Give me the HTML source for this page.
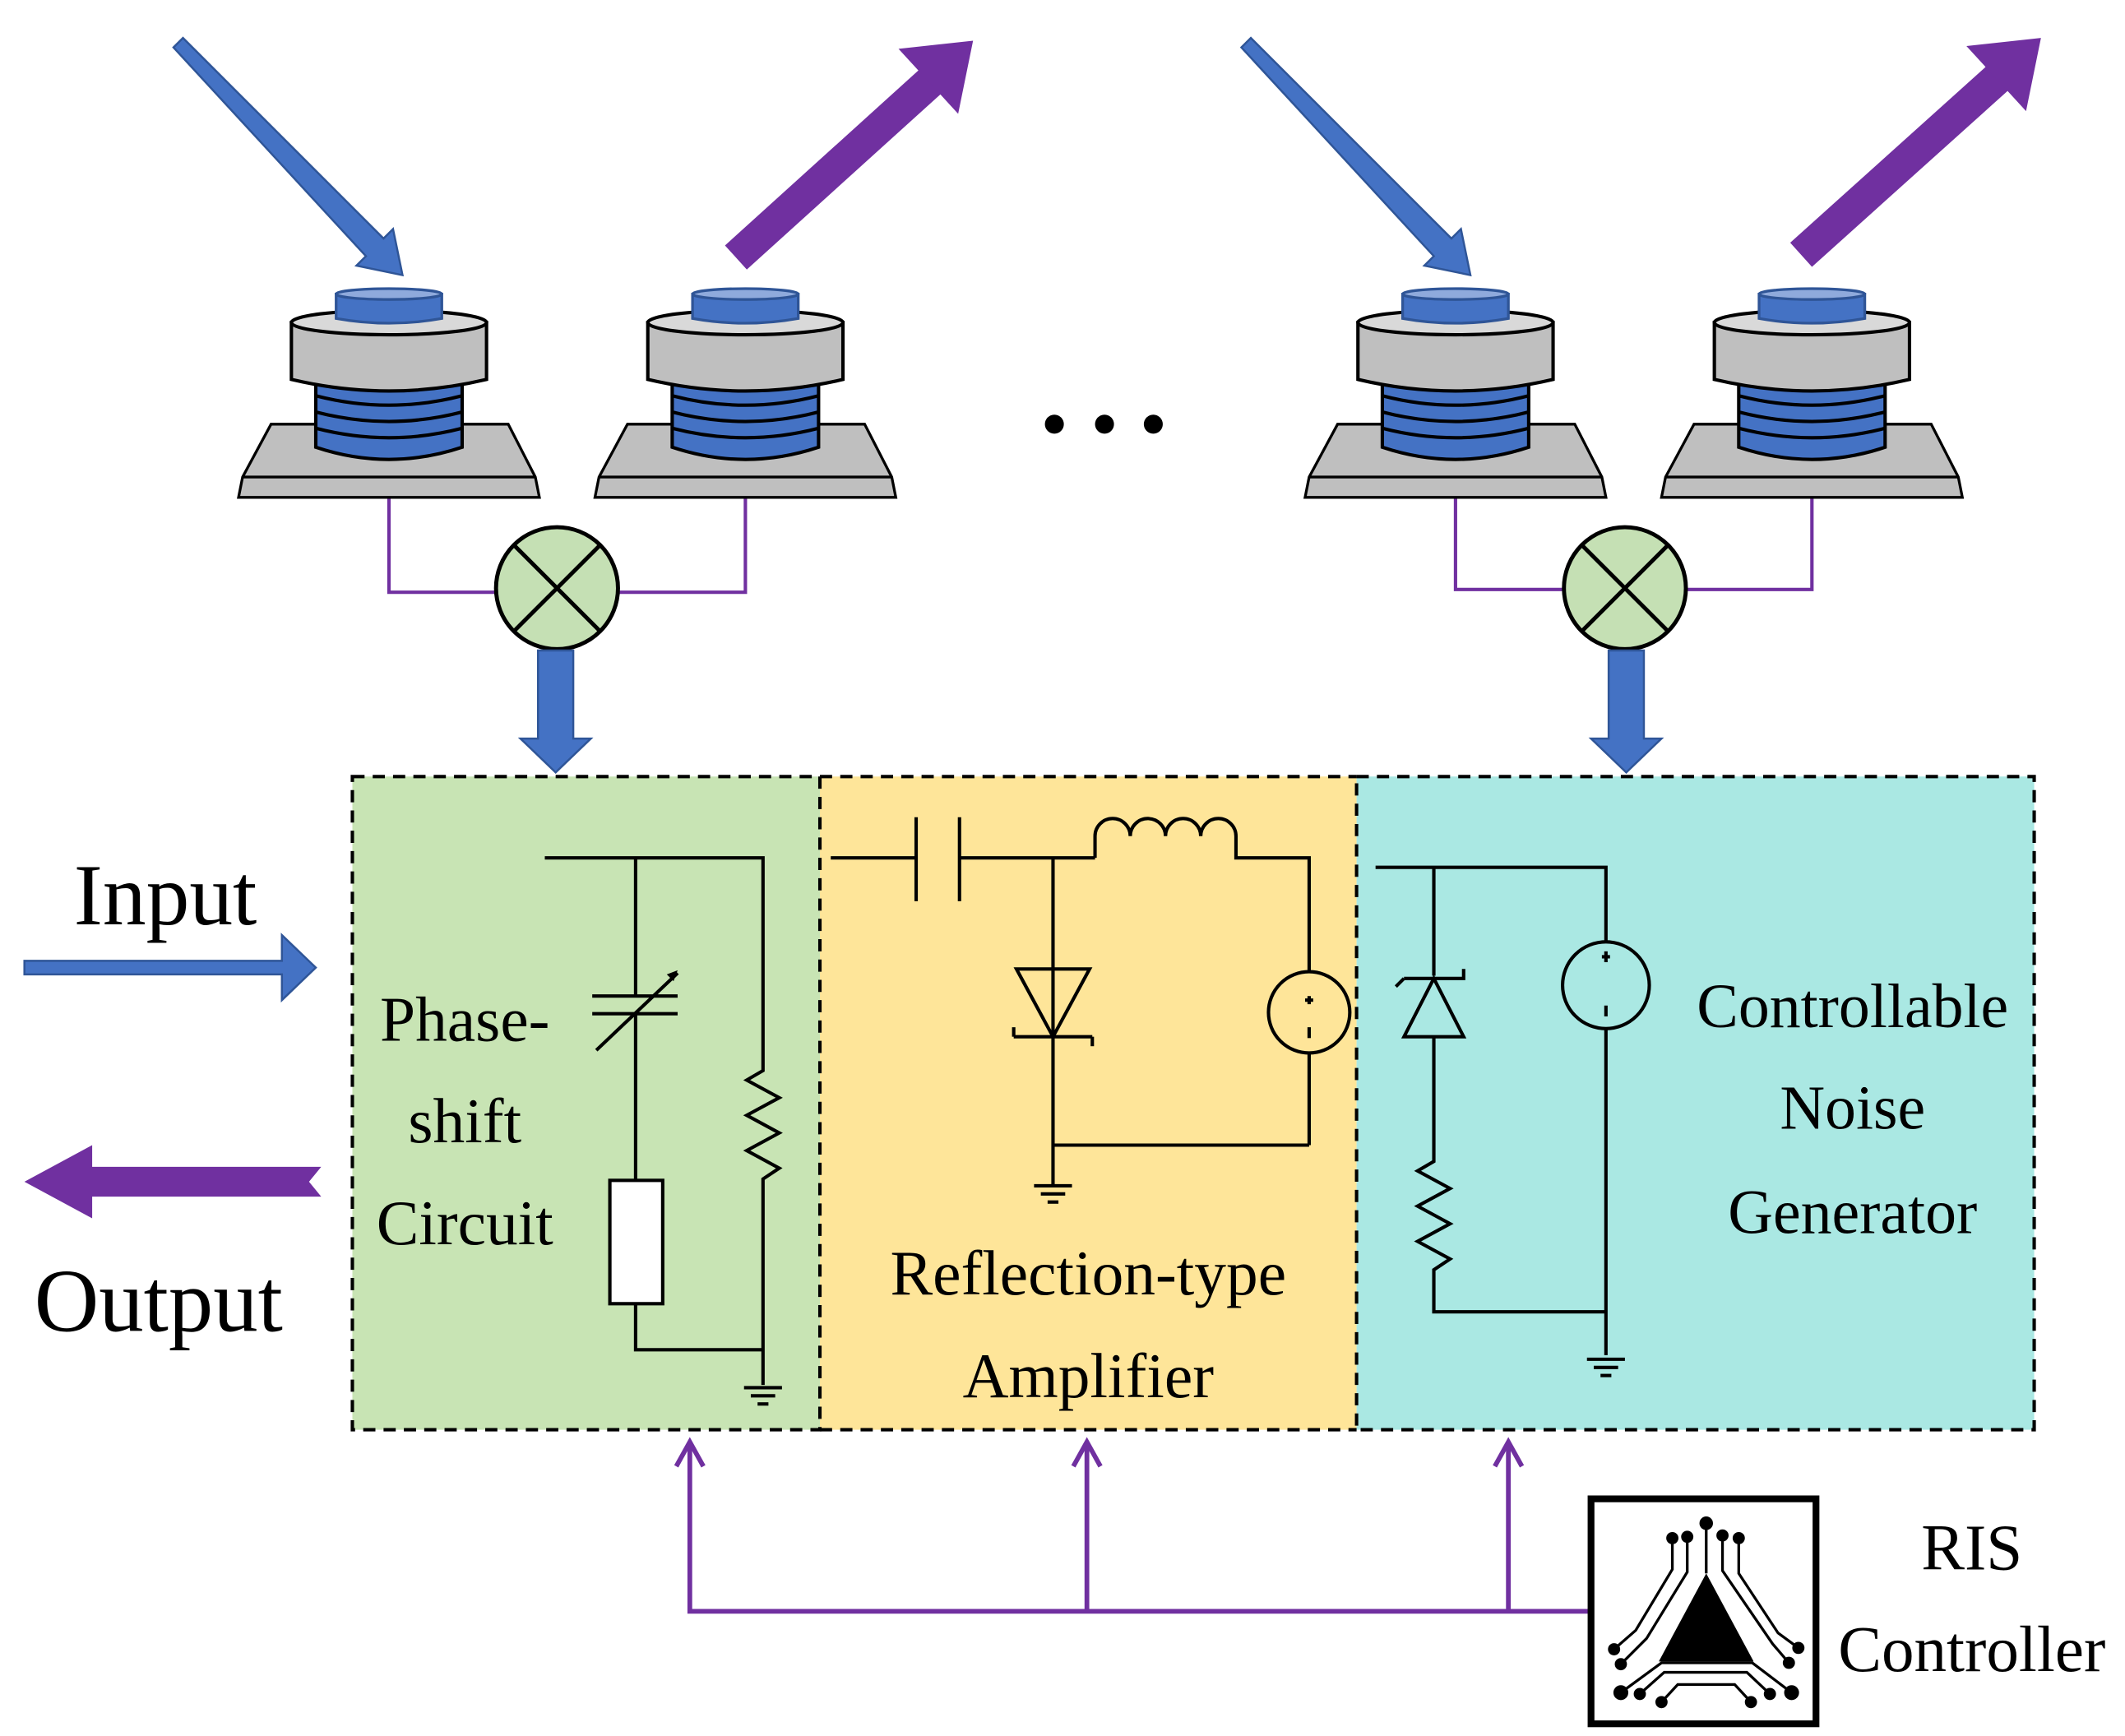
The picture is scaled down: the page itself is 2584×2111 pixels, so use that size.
<!DOCTYPE html>
<html><head><style>html,body{margin:0;padding:0;background:#fff;}svg{display:block}</style></head>
<body>
<svg width="2584" height="2111" viewBox="0 0 1568 1281" xmlns="http://www.w3.org/2000/svg" font-family="Liberation Serif, serif">
<defs>
<g id="ant">
 <polygon points="-99,367 -111,367 -108,352 -87,313 88,313 108,352 111,367" fill="#bfbfbf" stroke="#000" stroke-width="2"/>
 <line x1="-108" y1="352" x2="108" y2="352" stroke="#000" stroke-width="2"/>
 <path d="M-54,280 L-54,330 Q0,348 54,330 L54,280 Z" fill="#4472c4" stroke="#000" stroke-width="2.5"/>
 <path d="M-54,292 Q0,306 54,292 M-54,304 Q0,318 54,304 M-54,316 Q0,330 54,316" fill="none" stroke="#000" stroke-width="2.5"/>
 <path d="M-72,238 L-72,280 Q0,297 72,280 L72,238 Z" fill="#bfbfbf" stroke="#000" stroke-width="2.5"/>
 <ellipse cx="0" cy="238" rx="72" ry="9" fill="#d9d9d9" stroke="#000" stroke-width="2.5"/>
 <path d="M-39,217 L-39,235 Q0,242 39,235 L39,217 Z" fill="#4472c4" stroke="#2f5597" stroke-width="2"/>
 <ellipse cx="0" cy="217" rx="39" ry="4" fill="#8faadc" stroke="#2f5597" stroke-width="2"/>
</g>
<g id="mix">
 <circle r="45" fill="#c5e0b4" stroke="#000" stroke-width="3"/>
 <line x1="-32" y1="-32" x2="32" y2="32" stroke="#000" stroke-width="3"/>
 <line x1="-32" y1="32" x2="32" y2="-32" stroke="#000" stroke-width="3"/>
</g>
<g id="down">
 <polygon points="-13,0 13,0 13,65 26,65 0,90 -26,65 -13,65" fill="#4472c4" stroke="#2f5597" stroke-width="1.5"/>
</g>
<g id="gnd" stroke="#000" stroke-width="2.5">
 <line x1="-14" y1="0" x2="14" y2="0"/><line x1="-9" y1="6" x2="9" y2="6"/><line x1="-4" y1="12" x2="4" y2="12"/>
</g>
</defs>

<g fill="#4472c4" stroke="#2f5597" stroke-width="1.5">
 <polygon points="128,35 135,28 283,176 290,169 297,203 263,196 270,189"/>
 <polygon points="916,35 923,28 1071,176 1078,169 1085,203 1051,196 1058,189"/>
</g>
<g stroke="#7030a0" stroke-width="24">
 <line x1="543" y1="190" x2="690" y2="57"/>
 <line x1="1329" y1="188" x2="1478" y2="54"/>
</g>
<g fill="#7030a0">
 <polygon points="718,30 707,84 663,36"/>
 <polygon points="1506,28 1495,82 1451,34"/>
</g>

<use href="#ant" x="287"/>
<use href="#ant" x="550"/>
<use href="#ant" x="1074"/>
<use href="#ant" x="1337"/>

<circle cx="778" cy="313" r="7"/><circle cx="815" cy="313" r="7"/><circle cx="851" cy="313" r="7"/>

<g fill="none" stroke="#7030a0" stroke-width="2.5">
 <polyline points="287,368 287,437 366,437"/>
 <polyline points="550,368 550,437 456,437"/>
 <polyline points="1074,368 1074,435 1154,435"/>
 <polyline points="1337,368 1337,435 1244,435"/>
</g>
<use href="#mix" x="411" y="434"/>
<use href="#mix" x="1199" y="434"/>
<use href="#down" x="410" y="480"/>
<use href="#down" x="1200" y="480"/>

<rect x="260" y="573" width="345" height="482" fill="#c8e4b4"/>
<rect x="605" y="573" width="396" height="482" fill="#fee599"/>
<rect x="1001" y="573" width="500" height="482" fill="#aae8e3"/>
<g fill="none" stroke="#000" stroke-width="2.5" stroke-dasharray="9,6">
 <rect x="260" y="573" width="345" height="482"/>
 <rect x="1001" y="573" width="500" height="482"/>
 <line x1="605" y1="573" x2="1001" y2="573"/>
 <line x1="605" y1="1055" x2="1001" y2="1055"/>
</g>

<text x="122" y="682" font-size="64" text-anchor="middle">Input</text>
<polygon points="18,709 208,709 208,690 233,714 208,738 208,719 18,719" fill="#4472c4" stroke="#2f5597" stroke-width="1.5"/>
<polygon points="237,861 68,861 68,845 18,872 68,899 68,883 237,883 228,872" fill="#7030a0"/>
<text x="117" y="982" font-size="66" text-anchor="middle">Output</text>

<g fill="none" stroke="#000" stroke-width="2.5">
 <polyline points="402,633 563,633 563,790 551,797 575,810 551,823 575,836 551,849 575,862 563,870 563,1022"/>
 <line x1="469" y1="633" x2="469" y2="735"/>
 <line x1="437" y1="735" x2="500" y2="735"/>
 <line x1="437" y1="748" x2="500" y2="748"/>
 <line x1="440" y1="775" x2="500" y2="718"/>
 <polyline points="469,748 469,871"/>
 <rect x="450" y="871" width="39" height="91" fill="#fff"/>
 <polyline points="469,962 469,996 563,996"/>
</g>
<polygon points="500,716 492,719 497,724" fill="#000"/>
<use href="#gnd" x="563" y="1024"/>
<g font-size="47" text-anchor="middle">
<text x="343" y="768">Phase-</text><text x="343" y="843">shift</text><text x="343" y="918">Circuit</text>
</g>

<g fill="none" stroke="#000" stroke-width="2.5">
 <line x1="613" y1="633" x2="676" y2="633"/>
 <line x1="676" y1="603" x2="676" y2="665"/>
 <line x1="708" y1="603" x2="708" y2="665"/>
 <line x1="708" y1="633" x2="808" y2="633"/>
 <path d="M808,633 L808,617 A13,13 0 0 1 834,617 A13,13 0 0 1 860,617 A13,13 0 0 1 886,617 A13,13 0 0 1 912,617 L912,633 L966,633 L966,717"/>
 <circle cx="966" cy="747" r="30"/>
 <line x1="966" y1="777" x2="966" y2="845"/>
 <polyline points="966,845 777,845"/>
 <line x1="777" y1="633" x2="777" y2="875"/>
 <polygon points="750,715 804,715 777,765" fill="none"/>
 <line x1="748" y1="765" x2="806" y2="765"/>
 <line x1="748" y1="765" x2="748" y2="758"/><line x1="806" y1="765" x2="806" y2="772"/>
 <line x1="966" y1="735" x2="966" y2="741"/><line x1="963" y1="738" x2="969" y2="738"/>
 <line x1="966" y1="758" x2="966" y2="766"/>
</g>
<use href="#gnd" x="777" y="875"/>
<g font-size="47" text-anchor="middle">
<text x="803" y="955">Reflection-type</text><text x="803" y="1031">Amplifier</text>
</g>

<g fill="none" stroke="#000" stroke-width="2.5">
 <polyline points="1015,640 1185,640 1185,695"/>
 <circle cx="1185" cy="727" r="32"/>
 <line x1="1185" y1="759" x2="1185" y2="1000"/>
 <line x1="1185" y1="702" x2="1185" y2="710"/><line x1="1182" y1="706" x2="1188" y2="706"/>
 <line x1="1185" y1="742" x2="1185" y2="750"/>
 <polyline points="1058,640 1058,720"/>
 <polygon points="1036,765 1080,765 1058,722"/>
 <polyline points="1036,722 1080,722 1080,715"/>
 <line x1="1036" y1="722" x2="1030" y2="728"/>
 <polyline points="1058,765 1058,857 1046,864 1070,877 1046,890 1070,903 1046,916 1070,929 1058,937 1058,968 1185,968"/>
</g>
<use href="#gnd" x="1185" y="1003"/>
<g font-size="46" text-anchor="middle">
<text x="1367" y="758">Controllable</text><text x="1367" y="833">Noise</text><text x="1367" y="910">Generator</text>
</g>

<g fill="none" stroke="#7030a0" stroke-width="3.5">
 <polyline points="1175,1189 509,1189 509,1066"/>
 <line x1="802" y1="1189" x2="802" y2="1066"/>
 <line x1="1113" y1="1189" x2="1113" y2="1066"/>
 <polyline points="499,1082 509,1064 519,1082"/>
 <polyline points="792,1082 802,1064 812,1082"/>
 <polyline points="1103,1082 1113,1064 1123,1082"/>
</g>

<rect x="1174" y="1106" width="166" height="166" fill="#fff" stroke="#000" stroke-width="5"/>
<g transform="translate(1174,1106)">
 <polygon points="85,55 120,120 50,120" fill="#000"/>
 <g fill="none" stroke="#000" stroke-width="2">
  <polyline points="85,18 85,55"/>
  <polyline points="60,29 60,52 33,97 17,111"/>
  <polyline points="71,28 71,54 41,103 22,122"/>
  <polyline points="97,27 97,53 134,107 146,121"/>
  <polyline points="109,29 109,55 138,99 153,110"/>
  <polyline points="22,143 52,121 119,121 148,143"/>
  <polyline points="36,144 54,128 115,128 132,144"/>
  <polyline points="52,150 64,137 106,137 118,150"/>
 </g>
 <g fill="#000">
  <circle cx="85" cy="18" r="5"/><circle cx="60" cy="29" r="4.5"/><circle cx="71" cy="28" r="4.5"/>
  <circle cx="97" cy="27" r="4.5"/><circle cx="109" cy="29" r="4.5"/>
  <circle cx="17" cy="111" r="4.5"/><circle cx="153" cy="110" r="4.5"/>
  <circle cx="22" cy="122" r="4.5"/><circle cx="146" cy="121" r="4.5"/>
  <circle cx="22" cy="143" r="5.5"/><circle cx="148" cy="143" r="5.5"/>
  <circle cx="36" cy="144" r="4.5"/><circle cx="132" cy="144" r="4.5"/>
  <circle cx="52" cy="150" r="4.5"/><circle cx="118" cy="150" r="4.5"/>
 </g>
</g>
<g font-size="48" text-anchor="middle">
<text x="1455" y="1158">RIS</text><text x="1455" y="1233">Controller</text>
</g>
</svg>
</body></html>
